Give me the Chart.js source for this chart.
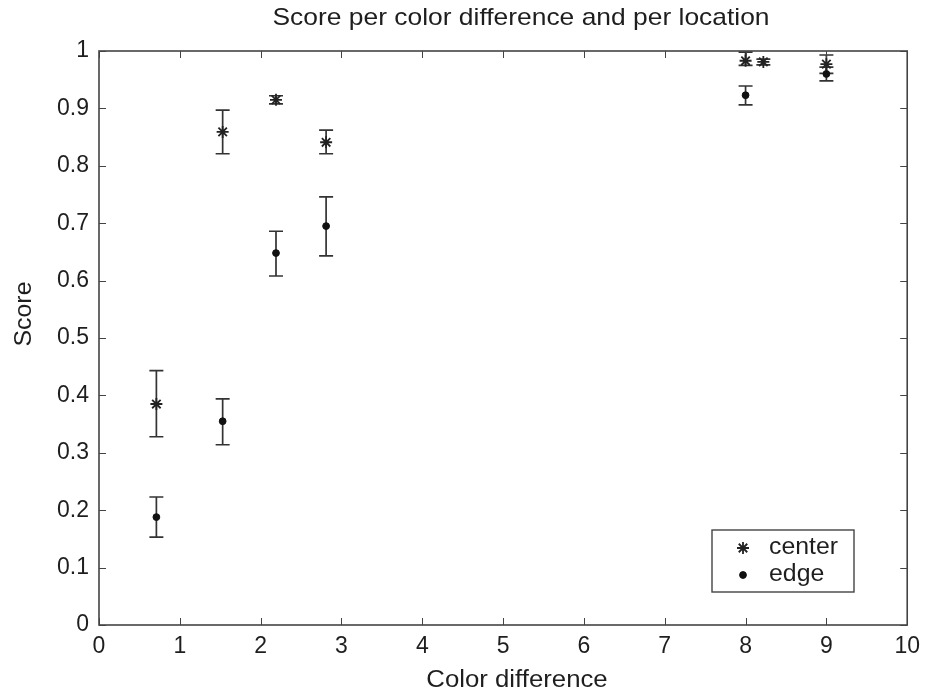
<!DOCTYPE html>
<html>
<head>
<meta charset="utf-8">
<script src="https://cdn.jsdelivr.net/npm/chart.js@4.4.0/dist/chart.umd.min.js"></script>
<style>
  html, body { margin: 0; padding: 0; background: #ffffff; }
  #wrap { width: 928px; height: 694px; }
</style>
</head>
<body>
<div id="wrap"><canvas id="c" width="928" height="694"></canvas></div>
<script>
// ---- data ----
const chartTitle = 'Score per color difference and per location';
const xAxisTitle = 'Color difference';
const yAxisTitle = 'Score';
const seriesNames = ['center', 'edge'];

const centerX    = [0.71, 1.53, 2.19, 2.81, 8.00, 8.22, 9.00];
const centerY    = [0.385, 0.859, 0.915, 0.841, 0.983, 0.981, 0.977];
const centerLow  = [0.328, 0.821, 0.908, 0.821, 0.975, 0.976, 0.961];
const centerHigh = [0.443, 0.897, 0.922, 0.862, 0.998, 0.986, 0.993];

const edgeX    = [0.71, 1.53, 2.19, 2.81, 8.00, 9.00];
const edgeY    = [0.188, 0.355, 0.648, 0.695, 0.923, 0.960];
const edgeLow  = [0.153, 0.314, 0.608, 0.643, 0.906, 0.948];
const edgeHigh = [0.223, 0.394, 0.686, 0.746, 0.939, 0.972];

const xTickLabels = ['0','1','2','3','4','5','6','7','8','9','10'];
const yTickLabels = ['0','0.1','0.2','0.3','0.4','0.5','0.6','0.7','0.8','0.9','1'];

// ---- build datasets ----
function pts(xs, ys, lo, hi) {
  return xs.map((x, i) => ({ x: x, y: ys[i], lo: lo[i], hi: hi[i] }));
}

const FONT = '"Liberation Sans", Arial, Helvetica, sans-serif';
const INK = '#1e1e1e';
const AXIS = '#444444';

const errorBars = {
  id: 'errorBars',
  beforeDatasetsDraw(chart) {
    const ctx = chart.ctx;
    const xs = chart.scales.x, ys = chart.scales.y;
    ctx.save();
    ctx.strokeStyle = '#333333';
    ctx.lineWidth = 1.7;
    chart.data.datasets.forEach(ds => {
      ds.data.forEach(p => {
        const px = xs.getPixelForValue(p.x);
        const yl = ys.getPixelForValue(p.lo);
        const yh = ys.getPixelForValue(p.hi);
        const cap = 7;
        ctx.beginPath();
        ctx.moveTo(px, yl); ctx.lineTo(px, yh);
        ctx.moveTo(px - cap, yl); ctx.lineTo(px + cap, yl);
        ctx.moveTo(px - cap, yh); ctx.lineTo(px + cap, yh);
        ctx.stroke();
      });
    });
    ctx.restore();
  }
};

function stretchedText(ctx, text, x, y, sx, rot) {
  ctx.save();
  ctx.translate(x, y);
  if (rot) ctx.rotate(rot);
  ctx.scale(sx, 1);
  ctx.fillText(text, 0, 0);
  ctx.restore();
}

const frame = {
  id: 'frame',
  afterDraw(chart) {
    const ctx = chart.ctx;
    const a = chart.chartArea;
    const xs = chart.scales.x, ys = chart.scales.y;
    ctx.save();
    ctx.strokeStyle = AXIS;
    ctx.lineWidth = 1.6;
    ctx.strokeRect(a.left, a.top, a.right - a.left, a.bottom - a.top);
    ctx.lineWidth = 1;
    const tl = 7;
    ctx.beginPath();
    xs.ticks.forEach(t => {
      const px = Math.round(xs.getPixelForValue(t.value)) + 0.5;
      ctx.moveTo(px, a.bottom); ctx.lineTo(px, a.bottom - tl);
      ctx.moveTo(px, a.top); ctx.lineTo(px, a.top + tl);
    });
    ys.ticks.forEach(t => {
      const py = Math.round(ys.getPixelForValue(t.value)) + 0.5;
      ctx.moveTo(a.left, py); ctx.lineTo(a.left + tl, py);
      ctx.moveTo(a.right, py); ctx.lineTo(a.right - tl, py);
    });
    ctx.stroke();

    // titles
    ctx.fillStyle = INK;
    ctx.textAlign = 'center';
    ctx.textBaseline = 'middle';
    ctx.font = '24px ' + FONT;
    stretchedText(ctx, chartTitle, 521, 18, 1.1, 0);

    ctx.font = '23px ' + FONT;
    stretchedText(ctx, xAxisTitle, 517, 681, 1.12, 0);
    stretchedText(ctx, yAxisTitle, 25, 314, 1.08, -Math.PI / 2);

    // legend box
    const lx = 712, ly = 530, lw = 142, lh = 62;
    ctx.fillStyle = '#ffffff';
    ctx.fillRect(lx, ly, lw, lh);
    ctx.strokeStyle = AXIS;
    ctx.lineWidth = 1.4;
    ctx.strokeRect(lx, ly, lw, lh);
    const rows = [548, 575];
    chart.data.datasets.forEach((ds, i) => {
      ctx.strokeStyle = ds.borderColor;
      ctx.fillStyle = ds.backgroundColor;
      ctx.lineWidth = ds.borderWidth;
      Chart.helpers.drawPoint(ctx, {
        pointStyle: ds.pointStyle,
        radius: ds.pointRadius,
        borderWidth: ds.borderWidth,
        rotation: 0
      }, 743, rows[i]);
      ctx.fillStyle = INK;
      ctx.textAlign = 'left';
      ctx.font = '23px ' + FONT;
      stretchedText(ctx, seriesNames[i], 769, rows[i], 1.08, 0);
    });
    ctx.restore();
  }
};

new Chart(document.getElementById('c'), {
  type: 'scatter',
  data: {
    datasets: [
      {
        label: seriesNames[0],
        data: pts(centerX, centerY, centerLow, centerHigh),
        pointStyle: 'star',
        pointRadius: 6,
        borderWidth: 1.8,
        borderColor: '#222222',
        backgroundColor: '#222222',
        clip: false
      },
      {
        label: seriesNames[1],
        data: pts(edgeX, edgeY, edgeLow, edgeHigh),
        pointStyle: 'circle',
        pointRadius: 3.4,
        borderWidth: 1,
        borderColor: '#111111',
        backgroundColor: '#111111',
        clip: false
      }
    ]
  },
  options: {
    responsive: false,
    animation: false,
    layout: { padding: { top: 51, right: 19, left: 0, bottom: 0 } },
    plugins: {
      legend: { display: false },
      title: { display: false },
      tooltip: { enabled: false }
    },
    scales: {
      x: {
        type: 'linear',
        min: 0, max: 10,
        grid: { display: false, drawTicks: false },
        border: { display: false },
        ticks: {
          stepSize: 1,
          padding: 8,
          color: INK,
          font: { family: FONT, size: 23 },
          maxRotation: 0,
          callback: (v, i) => xTickLabels[i]
        },
        afterFit: s => { s.height = 69; }
      },
      y: {
        type: 'linear',
        min: 0, max: 1,
        grid: { display: false, drawTicks: false },
        border: { display: false },
        ticks: {
          stepSize: 0.1,
          padding: 10,
          color: INK,
          font: { family: FONT, size: 23 },
          callback: (v, i) => yTickLabels[i]
        },
        afterFit: s => { s.width = 99; }
      }
    }
  },
  plugins: [errorBars, frame]
});
</script>
</body>
</html>
